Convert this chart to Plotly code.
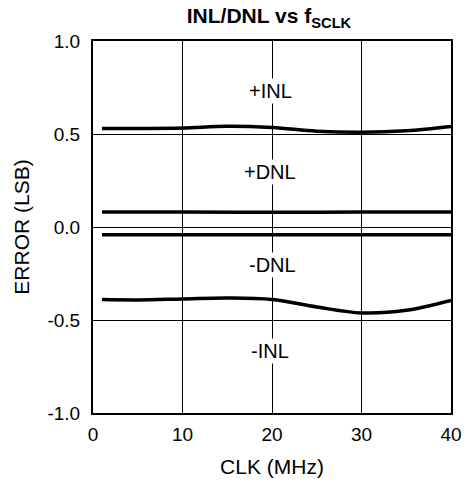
import plotly.graph_objects as go

# Data
inl_pos_x = [1, 5, 10, 15, 20, 25, 30, 35, 40]
inl_pos_y = [0.53, 0.53, 0.532, 0.542, 0.535, 0.515, 0.509, 0.517, 0.54]

dnl_pos_x = [1, 10, 20, 30, 40]
dnl_pos_y = [0.08, 0.08, 0.079, 0.08, 0.08]

dnl_neg_x = [1, 10, 20, 30, 40]
dnl_neg_y = [-0.041, -0.041, -0.041, -0.041, -0.041]

inl_neg_x = [1, 5, 10, 15, 20, 25, 30, 35, 40]
inl_neg_y = [-0.39, -0.392, -0.387, -0.382, -0.39, -0.43, -0.462, -0.448, -0.395]

x_ticks = [0, 10, 20, 30, 40]
y_ticks = [-1.0, -0.5, 0.0, 0.5, 1.0]
y_tick_text = ["-1.0", "-0.5", "0.0", "0.5", "1.0"]

labels = ["+INL", "+DNL", "-DNL", "-INL"]
label_x = [19.8, 19.8, 20.0, 19.8]
label_y = [0.73, 0.295, -0.206, -0.665]

FONT = "Liberation Sans, Arial, sans-serif"

fig = go.Figure()
for xs, ys in [(inl_pos_x, inl_pos_y), (dnl_pos_x, dnl_pos_y),
               (dnl_neg_x, dnl_neg_y), (inl_neg_x, inl_neg_y)]:
    fig.add_trace(go.Scatter(x=xs, y=ys, mode="lines",
                             line=dict(color="black", width=3.5, shape="spline", smoothing=1.0),
                             showlegend=False, hoverinfo="skip"))

for t, xv, yv in zip(labels, label_x, label_y):
    fig.add_annotation(x=xv, y=yv, text=t, showarrow=False,
                       font=dict(family=FONT, size=20, color="black"),
                       bgcolor="white", borderpad=1)

fig.update_layout(
    width=474, height=487,
    margin=dict(l=93, r=17, t=41, b=70),
    paper_bgcolor="white", plot_bgcolor="white",
    font=dict(family=FONT, size=19, color="black"),
    title=dict(text="<b>INL/DNL vs f<sub>SCLK</sub></b>", x=269 / 474, xanchor="center",
               y=1 - 16 / 487, yanchor="middle", pad=dict(t=0, b=0, l=0, r=0),
               font=dict(family=FONT, size=21, color="black")),
)
fig.update_xaxes(range=[0, 40], tickvals=x_ticks, showgrid=True, gridcolor="black", gridwidth=1,
                 showline=True, linecolor="black", linewidth=2, mirror=True, zeroline=False,
                 ticks="", ticklabelstandoff=3,
                 title=dict(text="CLK (MHz)", standoff=16, font=dict(size=21)),
                 tickfont=dict(size=19))
fig.update_yaxes(range=[-1, 1], tickvals=y_ticks, ticktext=y_tick_text, showgrid=True,
                 gridcolor="black", gridwidth=1, showline=True, linecolor="black", linewidth=2,
                 mirror=True, zeroline=False, ticks="", ticklabelstandoff=7,
                 title=dict(text="ERROR (LSB)", standoff=12, font=dict(size=21)),
                 tickfont=dict(size=19))

# remove the browser's default 8px page margin so figure pixels map 1:1 to the window
fig.write_html("out.html", config={"displayModeBar": False},
               post_script="document.body.style.margin='0';document.body.style.overflow='hidden';")
